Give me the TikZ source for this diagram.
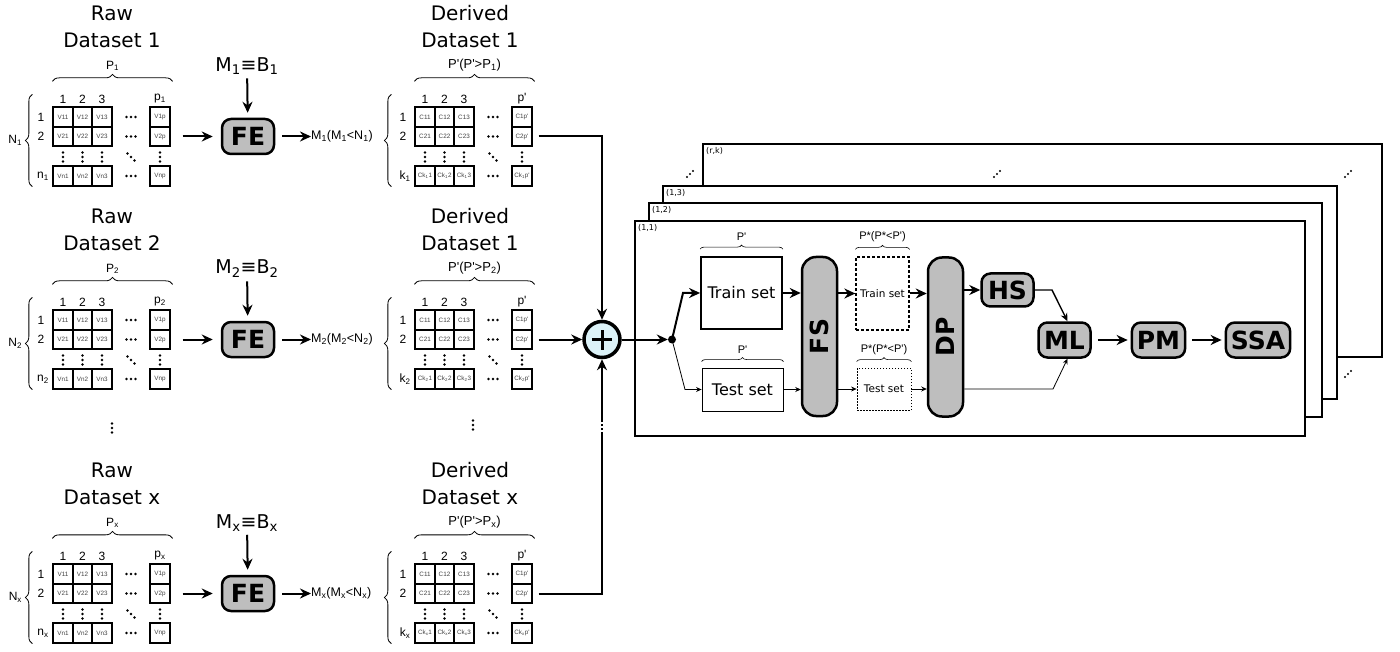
\documentclass[tikz,border=0pt]{standalone}
\usepackage{fontspec}
\setmainfont{DejaVu Sans}
\newfontfamily\arialf{Liberation Sans}
\usetikzlibrary{
  arrows.meta,
  positioning,
  calc,
  decorations.pathreplacing
}
\definecolor{blockgray}{RGB}{190,190,190}
\definecolor{sumfill}{RGB}{220,242,248}

\tikzset{
  dstitle/.style={align=center, font=\fontsize{20}{27}\selectfont, inner sep=0pt},
  lbl/.style={font=\arialf\fontsize{12}{14}\selectfont, inner sep=0pt},
  cell/.style={draw, line width=1.8pt, minimum width=19.5pt, minimum height=19.5pt,
    inner sep=0pt, font=\arialf\fontsize{6.3}{7}\selectfont, text=black!75},
  block/.style={draw, line width=2.5pt, fill=blockgray, rounded corners=9pt,
    minimum height=35pt, minimum width=52pt, inner xsep=5pt,
    font=\bfseries\fontsize{25}{25}\selectfont},
  barbox/.style={block, minimum width=35pt, minimum height=159pt, rounded corners=14pt},
  panel/.style={draw, line width=1.3pt, fill=white},
  panlbl/.style={anchor=north west, font=\fontsize{8}{8}\selectfont, inner sep=2pt},
  brc/.style={decorate, decoration={brace, amplitude=7pt}, line width=0.8pt},
  sbrc/.style={decorate, decoration={brace, amplitude=4pt}, line width=0.6pt},
  sumnode/.style={circle, draw, line width=3.5pt, fill=sumfill, minimum size=36pt, inner sep=0pt,
    path picture={\draw[line width=3pt]
      ([xshift=-10pt]path picture bounding box.center) -- ([xshift=10pt]path picture bounding box.center)
      ([yshift=-10pt]path picture bounding box.center) -- ([yshift=10pt]path picture bounding box.center);}},
  arr/.style={line width=2pt, -{Stealth[length=11pt,width=10pt]}},
  marr/.style={line width=1.4pt, -{Stealth[length=8pt,width=7pt]}},
  tarr/.style={line width=0.8pt, -{Stealth[length=5.5pt,width=5pt]}},
  hdots/.pic={\foreach \i in {-4.5,0,4.5} \fill (\i pt,0pt) circle (1.3pt);},
  vdots/.pic={\foreach \i in {-4.5,0,4.5} \fill (0pt,\i pt) circle (1.3pt);},
  ddots/.pic={\foreach \i in {-3.5,0,3.5} \fill (\i pt,-\i pt) circle (1.3pt);},
  udots/.pic={\foreach \i in {-3,0,3} \fill (\i pt,\i pt) circle (1.2pt);}
}

\begin{document}
\begin{tikzpicture}[x=1pt, y=-1pt]
  \useasboundingbox (0,0) rectangle (1400,652);

  % the three dataset rows
  \foreach \off/\s/\t in {0/1/1, 203/2/1, 457/x/x} {
    \begin{scope}[yshift=-\off pt]
      % raw dataset
      \node[dstitle] (rt\s) at (112,27) {Raw\\Dataset \s};
      \foreach \c/\cx in {1/63,2/82.5,3/102,p/160}
        \foreach \r/\ry in {1/117,2/136.5,n/176}
          \node[cell] (r\s-\r\c) at (\cx,\ry) {V\r\c};
      \foreach \c/\cx in {1/63,2/82.5,3/102}
        \node[lbl] (rh\s-\c) at (\cx,99) {\c};
      \node[lbl] (rh\s-p) at (160,99) {p\textsubscript{\s}};
      \node[lbl] (rr\s-1) at (41,117) {1};
      \node[lbl] (rr\s-2) at (41,136.5) {2};
      \node[lbl] (rr\s-n) at (43,176) {n\textsubscript{\s}};
      \foreach \ry/\i in {117/1,136.5/2,176/3}
        \pic (rc\s-\i) at (131,\ry) {hdots};
      \foreach \cx/\i in {63/1,82.5/2,102/3,160/4}
        \pic (rv\s-\i) at (\cx,157) {vdots};
      \pic (rd\s) at (131,157) {ddots};
      \draw[brc] ([yshift=25pt]r\s-11.north west) -- ([yshift=25pt,xshift=2pt]r\s-1p.north east)
        node[lbl, midway, above=10pt] (rp\s) {P\textsubscript{\s}};
      \draw[brc] ([xshift=-20pt]r\s-n1.south west) -- ([xshift=-20pt,yshift=12pt]r\s-11.north west)
        node[lbl, midway, left=10pt] (rn\s) {N\textsubscript{\s}};

      % feature extraction
      \node[block] (fe\s) at (248,136.5) {FE};
      \node[font=\fontsize{19}{19}\selectfont] (mb\s) at (247,66) {M\textsubscript{\s}≡B\textsubscript{\s}};
      \draw[arr, shorten >=5pt] (mb\s) -- (fe\s);
      \draw[arr, shorten <=12pt, shorten >=8pt] (r\s-2p.east) -- (fe\s.west);
      \node[lbl, font=\arialf\fontsize{12.5}{14}\selectfont, anchor=west] (ml\s) at (311,136.5)
        {M\textsubscript{\s}(M\textsubscript{\s}<N\textsubscript{\s})};
      \draw[arr, shorten <=7pt] (fe\s.east) -- (ml\s.west);

      % derived dataset
      \node[dstitle] (dt\s) at (470,27) {Derived\\Dataset \t};
      \foreach \c/\cc/\cx in {1/1/425,2/2/444.5,3/3/464,p/p'/522}
        \foreach \r/\rr/\ry in {1/1/117,2/2/136.5,k/{k\textsubscript{\s}}/176}
          \node[cell] (d\s-\r\c) at (\cx,\ry) {C\rr\cc};
      \foreach \c/\cx in {1/425,2/444.5,3/464}
        \node[lbl] (dh\s-\c) at (\cx,99) {\c};
      \node[lbl] (dh\s-p) at (522,99) {p'};
      \node[lbl] (dr\s-1) at (403,117) {1};
      \node[lbl] (dr\s-2) at (403,136.5) {2};
      \node[lbl] (dr\s-k) at (405,176) {k\textsubscript{\s}};
      \foreach \ry/\i in {117/1,136.5/2,176/3}
        \pic (dc\s-\i) at (493,\ry) {hdots};
      \foreach \cx/\i in {425/1,444.5/2,464/3,522/4}
        \pic (dv\s-\i) at (\cx,157) {vdots};
      \pic (dd\s) at (493,157) {ddots};
      \draw[brc] ([yshift=25pt]d\s-11.north west) -- ([yshift=25pt,xshift=2pt]d\s-1p.north east)
        node[lbl, font=\arialf\fontsize{13}{14}\selectfont, midway, above=10pt] (dp\s) {P'(P'>P\textsubscript{\s})};
      \draw[brc] ([xshift=-23pt]d\s-k1.south west) -- ([xshift=-23pt,yshift=12pt]d\s-11.north west);
    \end{scope}
  }
  \pic (vd1) at (112,428) {vdots};
  \pic (vd2) at (473,425) {vdots};

  % merge
  \node[sumnode] (sum) at (602,339.5) {};
  \draw[arr, shorten <=6pt] (d1-2p.east) -| (sum.north);
  \draw[arr, shorten <=6pt] (d2-2p.east) -- (sum.west);
  \coordinate (gb) at (602,434);
  \coordinate (gt) at (602,421);
  \draw[line width=2pt, shorten <=6pt] (dx-2p.east) -| (gb);
  \draw[line width=2pt, dash pattern=on 2pt off 2pt] (gb) -- (gt);
  \draw[arr] (gt) -- (sum.south);

  % stacked panels
  \draw[panel] (703,144) rectangle (1382,357);
  \node[panlbl] (prk) at (704,145) {(r,k)};
  \draw[panel] (663,186) rectangle (1337,399);
  \node[panlbl] (p13) at (664,187) {(1,3)};
  \draw[panel] (649,203) rectangle (1322,417);
  \node[panlbl] (p12) at (650,204) {(1,2)};
  \draw[panel] (635,221) rectangle (1305,436);
  \node[panlbl] (p11) at (636,222) {(1,1)};
  \foreach \px/\py/\i in {690/174/1, 997/174/2, 1348/174/3, 1348/374/4}
    \pic (ud\i) at (\px,\py) {udots};

  % pipeline
  \node[circle, fill, inner sep=0pt, minimum size=8pt] (split) at (672,339.5) {};
  \node[draw, line width=1.8pt, minimum width=81pt, minimum height=72pt,
    font=\fontsize{16}{16}\selectfont] (train) at (741.5,293) {Train set};
  \node[draw, line width=0.9pt, minimum width=81pt, minimum height=43pt,
    font=\fontsize{16}{16}\selectfont] (test) at (742.5,389.5) {Test set};
  \node[barbox] (fs) at (819.5,336.5) {\rotatebox{90}{FS}};
  \node[draw, line width=1.3pt, dash pattern=on 3pt off 2pt, minimum width=53pt, minimum height=73pt,
    inner sep=0pt, font=\fontsize{10.5}{11}\selectfont] (trains) at (882.5,293.5) {Train set};
  \node[draw, line width=0.8pt, dash pattern=on 1.5pt off 1.5pt, minimum width=54pt, minimum height=42pt,
    inner sep=0pt, font=\fontsize{10.5}{11}\selectfont] (tests) at (884,389) {Test set};
  \node[barbox] (dp) at (945.5,337) {\rotatebox{90}{DP}};
  \node[block, minimum height=33pt] (hs) at (1007.5,290) {HS};
  \node[block] (ml) at (1064.5,340) {ML};
  \node[block] (pm) at (1158.5,340) {PM};
  \node[block] (ssa) at (1258,340) {SSA};

  \draw[sbrc] ([yshift=7pt]train.north west) -- ([yshift=7pt]train.north east)
    node[lbl, font=\arialf\fontsize{11}{12}\selectfont, midway, above=8pt] (ptr) {P'};
  \draw[sbrc] ([yshift=6pt]test.north west) -- ([yshift=6pt]test.north east)
    node[lbl, font=\arialf\fontsize{11}{12}\selectfont, midway, above=8pt] (pte) {P'};
  \draw[sbrc] ([yshift=7pt]trains.north west) -- ([yshift=7pt]trains.north east)
    node[lbl, font=\arialf\fontsize{11}{12}\selectfont, midway, above=7pt] (pstr) {P*(P*<P')};
  \draw[sbrc] ([yshift=6pt]tests.north west) -- ([yshift=6pt]tests.north east)
    node[lbl, font=\arialf\fontsize{11}{12}\selectfont, midway, above=7pt] (pste) {P*(P*<P')};

  \coordinate (tu) at (683,293);
  \coordinate (td) at (685,389.5);
  \coordinate (hm) at (1052,290);
  \coordinate (dm) at (1053,389);
  \draw[arr] (sum) -- (split);
  \draw[arr] (split.center) -- (tu) -- (train.west);
  \draw[tarr] (split.center) -- (td) -- (test.west);
  \draw[arr] (train.east) -- (train.east -| fs.west);
  \draw[tarr] (test.east) -- (test.east -| fs.west);
  \draw[arr] (fs.east |- trains.west) -- (trains.west);
  \draw[tarr] (fs.east |- tests.west) -- (tests.west);
  \draw[arr] (trains.east) -- (trains.east -| dp.west);
  \draw[tarr] (tests.east) -- (tests.east -| dp.west);
  \draw[arr] (dp.east |- hs.west) -- (hs.west);
  \draw[marr] (hs.east) -- (hm) -- ([xshift=3pt]ml.north);
  \draw[tarr] (dp.east |- dm) -- (dm) -- ([xshift=3pt]ml.south);
  \draw[arr, shorten <=6pt, shorten >=3pt] (ml) -- (pm);
  \draw[arr, shorten <=6pt, shorten >=3pt] (pm) -- (ssa);
\end{tikzpicture}
\end{document}
